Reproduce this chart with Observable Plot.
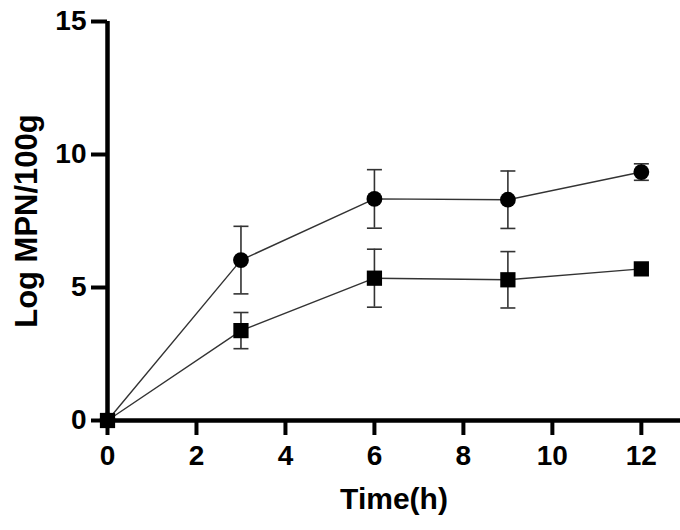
<!DOCTYPE html>
<html>
<head>
<meta charset="utf-8">
<script src="https://cdn.jsdelivr.net/npm/d3@7"></script>
<script src="https://cdn.jsdelivr.net/npm/@observablehq/plot@0.6"></script>
<style>
  html, body { margin: 0; padding: 0; background: #fff; }
</style>
</head>
<body>
<div id="chart"></div>
<script>
const times = [0, 3, 6, 9, 12];
const circleMean = [0, 6.03, 8.33, 8.30, 9.34];
const circleSd = [0, 1.27, 1.10, 1.08, 0.31];
const squareMean = [0, 3.38, 5.35, 5.29, 5.70];
const squareSd = [0, 0.68, 1.09, 1.06, 0];
const xTicks = [0, 2, 4, 6, 8, 10, 12];
const yTicks = [0, 5, 10, 15];
const xTitle = "Time(h)";
const yTitle = "Log MPN/100g";

const circles = times.map((t, i) => ({x: t, y: circleMean[i], lo: circleMean[i] - circleSd[i], hi: circleMean[i] + circleSd[i], sd: circleSd[i]}));
const squares = times.map((t, i) => ({x: t, y: squareMean[i], lo: squareMean[i] - squareSd[i], hi: squareMean[i] + squareSd[i], sd: squareSd[i]}));
const bars = [...circles, ...squares].filter(d => d.sd > 0);

const capSymbol = {
  draw(context, size) {
    const w = 7.5;
    context.moveTo(-w, 0);
    context.lineTo(w, 0);
  }
};

const font = "'Liberation Sans', Arimo, Arial, sans-serif";

const chart = Plot.plot({
  width: 680,
  height: 530,
  marginLeft: 107,
  marginRight: 0,
  marginTop: 21,
  marginBottom: 110,
  style: {fontFamily: font, fontWeight: "bold", fontSize: "28px", color: "#000", background: "#fff"},
  x: {domain: [0, 12.88], ticks: xTicks},
  y: {domain: [0, 15], ticks: yTicks},
  marks: [
    // error bars
    Plot.ruleX(bars, {x: "x", y1: "lo", y2: "hi", stroke: "#333", strokeWidth: 1.6}),
    Plot.dot(bars, {x: "x", y: "lo", symbol: capSymbol, r: 5, stroke: "#333", strokeWidth: 1.6, fill: "none"}),
    Plot.dot(bars, {x: "x", y: "hi", symbol: capSymbol, r: 5, stroke: "#333", strokeWidth: 1.6, fill: "none"}),
    // lines
    Plot.line(circles, {x: "x", y: "y", stroke: "#333", strokeWidth: 1.4}),
    Plot.line(squares, {x: "x", y: "y", stroke: "#333", strokeWidth: 1.4}),
    // markers
    Plot.dot(circles, {x: "x", y: "y", symbol: "circle", r: 7.9, fill: "#000", stroke: "none"}),
    Plot.dot(squares, {x: "x", y: "y", symbol: "square", r: 8.6, fill: "#000", stroke: "none"}),
    // axes
    Plot.axisX({ticks: xTicks, tickSize: 15, tickPadding: 10, strokeWidth: 4, fontSize: 28, fontWeight: "bold", label: null}),
    Plot.axisY({ticks: yTicks, tickSize: 16, tickPadding: 5, strokeWidth: 4, fontSize: 28, fontWeight: "bold", label: null}),
    Plot.ruleY([0], {stroke: "#000", strokeWidth: 4.5}),
    Plot.ruleX([0], {y1: 0, y2: 15, stroke: "#000", strokeWidth: 4.5}),
    // titles
    Plot.text([xTitle], {frameAnchor: "bottom", dy: 88, fontSize: 30, fontWeight: "bold", fill: "#000"}),
    Plot.text([yTitle], {frameAnchor: "left", textAnchor: "middle", dx: -80, rotate: -90, fontSize: 31, fontWeight: "bold", fill: "#000"})
  ]
});

document.getElementById("chart").appendChild(chart);
</script>
</body>
</html>
